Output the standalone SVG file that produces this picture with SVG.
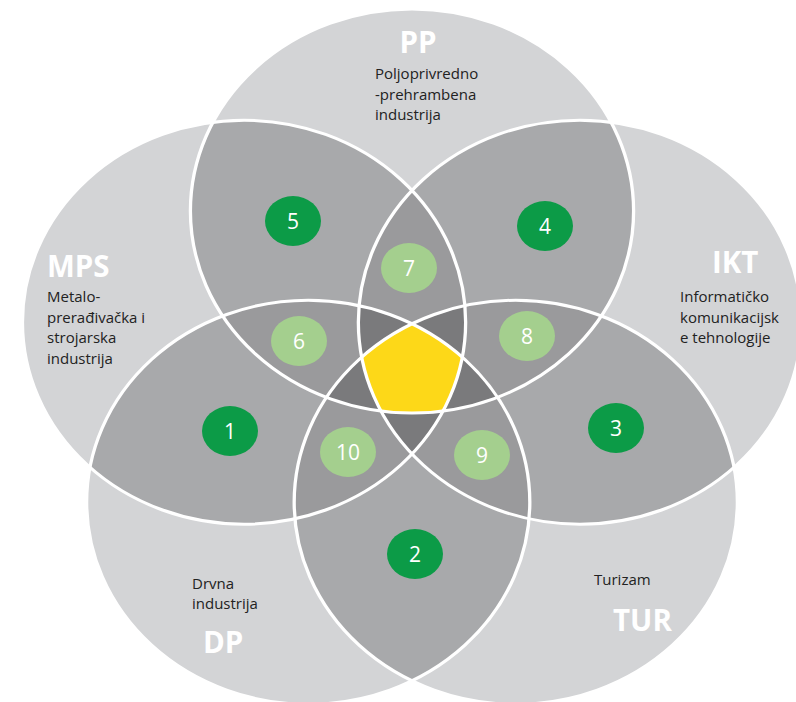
<svg xmlns="http://www.w3.org/2000/svg" xmlns:xlink="http://www.w3.org/1999/xlink" width="796" height="702" viewBox="0 0 796 702">
<style>
.l1{fill:#d3d4d6}
.l2{fill:#a8a9ab}
.l3{fill:#9a9a9c}
.l4{fill:#7a7a7c}
.l5{fill:#fdd818}
.ol{fill:none;stroke:#ffffff;stroke-width:3;vector-effect:non-scaling-stroke}
.big{font-family:"Open Sans","DejaVu Sans",sans-serif;font-weight:700;font-size:29.5px;fill:#ffffff}
.desc{font-family:"Open Sans","DejaVu Sans",sans-serif;font-size:15px;fill:#222222}
.num{font-family:"Open Sans","DejaVu Sans",sans-serif;font-size:21px;fill:#ffffff;text-anchor:middle}
.dg{fill:#0c9b47}
.lg{fill:#a4cf8e}
</style>
<defs>
<circle id="c0" cx="0" cy="-161" r="202"/>
<circle id="c1" cx="153.1" cy="-49.8" r="202"/>
<circle id="c2" cx="94.6" cy="130.3" r="202"/>
<circle id="c3" cx="-94.6" cy="130.3" r="202"/>
<circle id="c4" cx="-153.1" cy="-49.8" r="202"/>
<clipPath id="k0"><circle cx="0" cy="-161" r="202"/></clipPath>
<clipPath id="k1"><circle cx="153.1" cy="-49.8" r="202"/></clipPath>
<clipPath id="k2"><circle cx="94.6" cy="130.3" r="202"/></clipPath>
<clipPath id="k3"><circle cx="-94.6" cy="130.3" r="202"/></clipPath>
<clipPath id="k4"><circle cx="-153.1" cy="-49.8" r="202"/></clipPath>
</defs>
<rect x="0" y="0" width="796" height="702" fill="#ffffff"/>
<g id="sets" transform="translate(412,372) scale(1.097,1)">
<g id="level1">
<use href="#c0" class="l1"/><use href="#c1" class="l1"/><use href="#c2" class="l1"/><use href="#c3" class="l1"/><use href="#c4" class="l1"/>
</g>
<g id="level2">
<g clip-path="url(#k0)"><use href="#c1" class="l2"/><use href="#c2" class="l2"/><use href="#c3" class="l2"/><use href="#c4" class="l2"/></g>
<g clip-path="url(#k1)"><use href="#c2" class="l2"/><use href="#c3" class="l2"/><use href="#c4" class="l2"/></g>
<g clip-path="url(#k2)"><use href="#c3" class="l2"/><use href="#c4" class="l2"/></g>
<g clip-path="url(#k3)"><use href="#c4" class="l2"/></g>
</g>
<g id="level3">
<g clip-path="url(#k0)"><g clip-path="url(#k1)"><use href="#c2" class="l3"/><use href="#c3" class="l3"/><use href="#c4" class="l3"/></g></g>
<g clip-path="url(#k0)"><g clip-path="url(#k2)"><use href="#c3" class="l3"/><use href="#c4" class="l3"/></g></g>
<g clip-path="url(#k0)"><g clip-path="url(#k3)"><use href="#c4" class="l3"/></g></g>
<g clip-path="url(#k1)"><g clip-path="url(#k2)"><use href="#c3" class="l3"/><use href="#c4" class="l3"/></g></g>
<g clip-path="url(#k1)"><g clip-path="url(#k3)"><use href="#c4" class="l3"/></g></g>
<g clip-path="url(#k2)"><g clip-path="url(#k3)"><use href="#c4" class="l3"/></g></g>
</g>
<g id="level4">
<g clip-path="url(#k0)"><g clip-path="url(#k1)"><g clip-path="url(#k2)"><use href="#c3" class="l4"/><use href="#c4" class="l4"/></g></g></g>
<g clip-path="url(#k0)"><g clip-path="url(#k1)"><g clip-path="url(#k3)"><use href="#c4" class="l4"/></g></g></g>
<g clip-path="url(#k0)"><g clip-path="url(#k2)"><g clip-path="url(#k3)"><use href="#c4" class="l4"/></g></g></g>
<g clip-path="url(#k1)"><g clip-path="url(#k2)"><g clip-path="url(#k3)"><use href="#c4" class="l4"/></g></g></g>
</g>
<g id="level5">
<g clip-path="url(#k0)"><g clip-path="url(#k1)"><g clip-path="url(#k2)"><g clip-path="url(#k3)"><use href="#c4" class="l5"/></g></g></g></g>
</g>
<g id="outlines">
<use href="#c0" class="ol"/><use href="#c1" class="ol"/><use href="#c2" class="ol"/><use href="#c3" class="ol"/><use href="#c4" class="ol"/>
</g>
</g>
<g id="connectors"/>
<g id="node-PP">
<text class="big" x="418" y="53" text-anchor="middle">PP</text>
<text class="desc" x="375" y="79">Poljoprivredno</text>
<text class="desc" x="375" y="99.5">-prehrambena</text>
<text class="desc" x="375" y="120">industrija</text>
</g>
<g id="node-MPS">
<text class="big" x="47" y="277">MPS</text>
<text class="desc" x="47" y="302">Metalo-</text>
<text class="desc" x="47" y="322.5">prerađivačka i</text>
<text class="desc" x="47" y="343">strojarska</text>
<text class="desc" x="47" y="363.5">industrija</text>
</g>
<g id="node-IKT">
<text class="big" x="712" y="273">IKT</text>
<text class="desc" x="680" y="302">Informatičko</text>
<text class="desc" x="680" y="322.5">komunikacijsk</text>
<text class="desc" x="680" y="343">e tehnologije</text>
</g>
<g id="node-DP">
<text class="desc" x="192" y="588.5">Drvna</text>
<text class="desc" x="192" y="609">industrija</text>
<text class="big" x="203" y="653">DP</text>
</g>
<g id="node-TUR">
<text class="desc" x="594" y="585">Turizam</text>
<text class="big" x="613" y="631">TUR</text>
</g>
<g id="region-1"><ellipse class="dg" cx="230" cy="431" rx="28" ry="25"/><text class="num" x="230" y="438.5">1</text></g>
<g id="region-2"><ellipse class="dg" cx="415" cy="554" rx="28" ry="25"/><text class="num" x="415" y="561.5">2</text></g>
<g id="region-3"><ellipse class="dg" cx="616" cy="428" rx="28" ry="25"/><text class="num" x="616" y="435.5">3</text></g>
<g id="region-4"><ellipse class="dg" cx="545" cy="226" rx="28" ry="25"/><text class="num" x="545" y="233.5">4</text></g>
<g id="region-5"><ellipse class="dg" cx="293" cy="221" rx="28" ry="25"/><text class="num" x="293" y="228.5">5</text></g>
<g id="region-6"><ellipse class="lg" cx="299" cy="341" rx="28" ry="25"/><text class="num" x="299" y="348.5">6</text></g>
<g id="region-7"><ellipse class="lg" cx="409" cy="268" rx="28" ry="25"/><text class="num" x="409" y="275.5">7</text></g>
<g id="region-8"><ellipse class="lg" cx="527" cy="336" rx="28" ry="25"/><text class="num" x="527" y="343.5">8</text></g>
<g id="region-9"><ellipse class="lg" cx="482" cy="455" rx="28" ry="25"/><text class="num" x="482" y="462.5">9</text></g>
<g id="region-10"><ellipse class="lg" cx="348" cy="452" rx="28" ry="25"/><text class="num" x="348" y="459.5">10</text></g>
</svg>
